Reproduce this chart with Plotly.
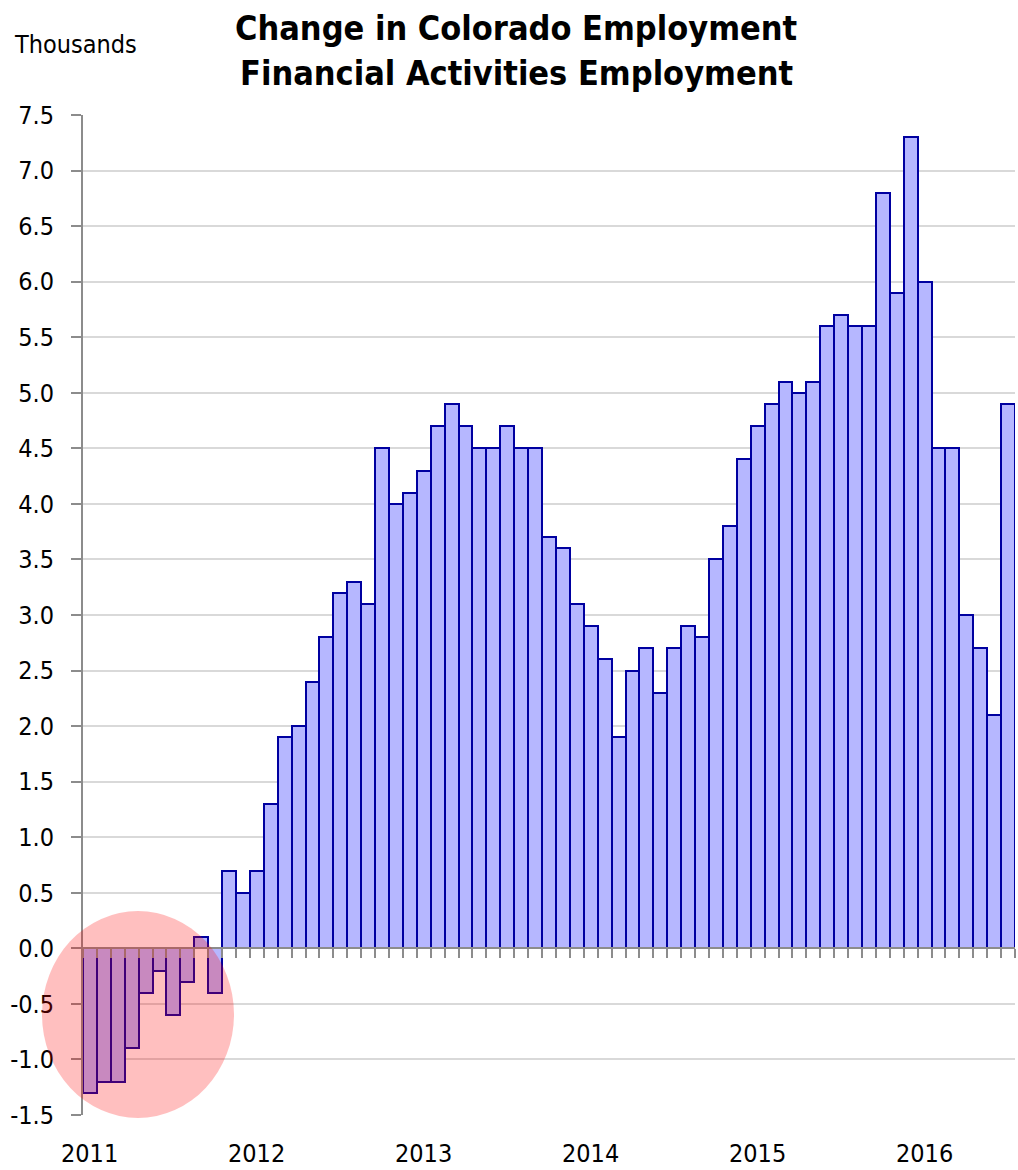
import plotly.graph_objects as go

# Monthly over-the-year change in Colorado financial activities employment (thousands)
months = [f"{y}-{m:02d}" for y in range(2011, 2017) for m in range(1, 13)][:67]
change = [
    -1.3, -1.2, -1.2, -0.9, -0.4, -0.2, -0.6, -0.3, 0.1, -0.4, 0.7, 0.5,   # 2011
    0.7, 1.3, 1.9, 2.0, 2.4, 2.8, 3.2, 3.3, 3.1, 4.5, 4.0, 4.1,            # 2012
    4.3, 4.7, 4.9, 4.7, 4.5, 4.5, 4.7, 4.5, 4.5, 3.7, 3.6, 3.1,            # 2013
    2.9, 2.6, 1.9, 2.5, 2.7, 2.3, 2.7, 2.9, 2.8, 3.5, 3.8, 4.4,            # 2014
    4.7, 4.9, 5.1, 5.0, 5.1, 5.6, 5.7, 5.6, 5.6, 6.8, 5.9, 7.3,            # 2015
    6.0, 4.5, 4.5, 3.0, 2.7, 2.1, 4.9,                                     # 2016
]
year_labels = ["2011", "2012", "2013", "2014", "2015", "2016"]
y_ticks = [v / 2 for v in range(-3, 16)]

W, H = 1018, 1170
L, R, T, B = 83, 3, 115, 55
FONT = "Liberation Sans Narrow, Arial Narrow, DejaVu Sans Condensed, Arial, sans-serif"
AXIS_GRAY = "#8C8C8C"

n = len(change)
xpos = list(range(n))
year_pos = [months.index(f"{yr}-01") for yr in year_labels]
y_lo, y_hi = y_ticks[0], y_ticks[-1]

fig = go.Figure()
fig.add_trace(go.Bar(
    x=xpos, y=change, width=1.0,
    marker=dict(color="#B6B7FF", line=dict(color="#0000A0", width=2)),
    customdata=months, hovertemplate="%{customdata}: %{y:.1f}<extra></extra>",
    showlegend=False,
))

# paper-space helpers (pixel -> paper fraction)
px_w = W - L - R
px_h = H - T - B
def paper_x(px):
    return (px - L) / px_w
def paper_y(py):
    return (H - B - py) / px_h

annotations = [
    dict(text="<b>Change in Colorado Employment</b>", xref="paper", yref="paper",
         x=paper_x(516), y=paper_y(28), xanchor="center", yanchor="middle",
         showarrow=False, font=dict(family=FONT, size=34, color="black")),
    dict(text="<b>Financial Activities Employment</b>", xref="paper", yref="paper",
         x=paper_x(516), y=paper_y(73), xanchor="center", yanchor="middle",
         showarrow=False, font=dict(family=FONT, size=34, color="black")),
    dict(text="Thousands", xref="paper", yref="paper",
         x=paper_x(12), y=paper_y(45), xanchor="left", yanchor="middle",
         showarrow=False, font=dict(family=FONT, size=25, color="black")),
]
# year labels under the plot, centred on each January bar
for yr, p in zip(year_labels, year_pos):
    annotations.append(dict(
        text=yr, xref="x", yref="paper", x=p, y=0, xanchor="center",
        yanchor="top", yshift=-22, showarrow=False,
        font=dict(family=FONT, size=25, color="black"),
    ))

fig.update_layout(
    width=W, height=H,
    margin=dict(l=L, r=R, t=T, b=B, pad=0),
    plot_bgcolor="white", paper_bgcolor="white",
    bargap=0,
    font=dict(family=FONT, size=25, color="black"),
    xaxis=dict(
        range=[-0.5, n - 0.5],
        anchor="free", position=(0 - y_lo) / (y_hi - y_lo),
        tickmode="array", tickvals=[i - 0.5 for i in range(n + 1)],
        showticklabels=False, ticks="outside", ticklen=9, tickwidth=2,
        tickcolor=AXIS_GRAY,
        showline=True, linecolor=AXIS_GRAY, linewidth=2,
        showgrid=False, zeroline=False, layer="above traces",
    ),
    yaxis=dict(
        range=[y_lo, y_hi],
        tickmode="array", tickvals=y_ticks,
        ticktext=[f"{v:.1f}" for v in y_ticks],
        ticks="outside", ticklen=10, tickwidth=2, tickcolor=AXIS_GRAY,
        showline=True, linecolor=AXIS_GRAY, linewidth=2,
        showgrid=True, gridcolor="#D9D9D9", gridwidth=2,
        zeroline=False,
        ticklabelstandoff=12,
        tickfont=dict(size=25),
    ),
    annotations=annotations,
    shapes=[dict(
        type="circle", xref="paper", yref="paper",
        x0=paper_x(42), x1=paper_x(234), y0=paper_y(1118), y1=paper_y(911),
        fillcolor="rgba(255,0,0,0.25)", line=dict(width=0), layer="above",
    )],
)

fig.write_html("out.html")
